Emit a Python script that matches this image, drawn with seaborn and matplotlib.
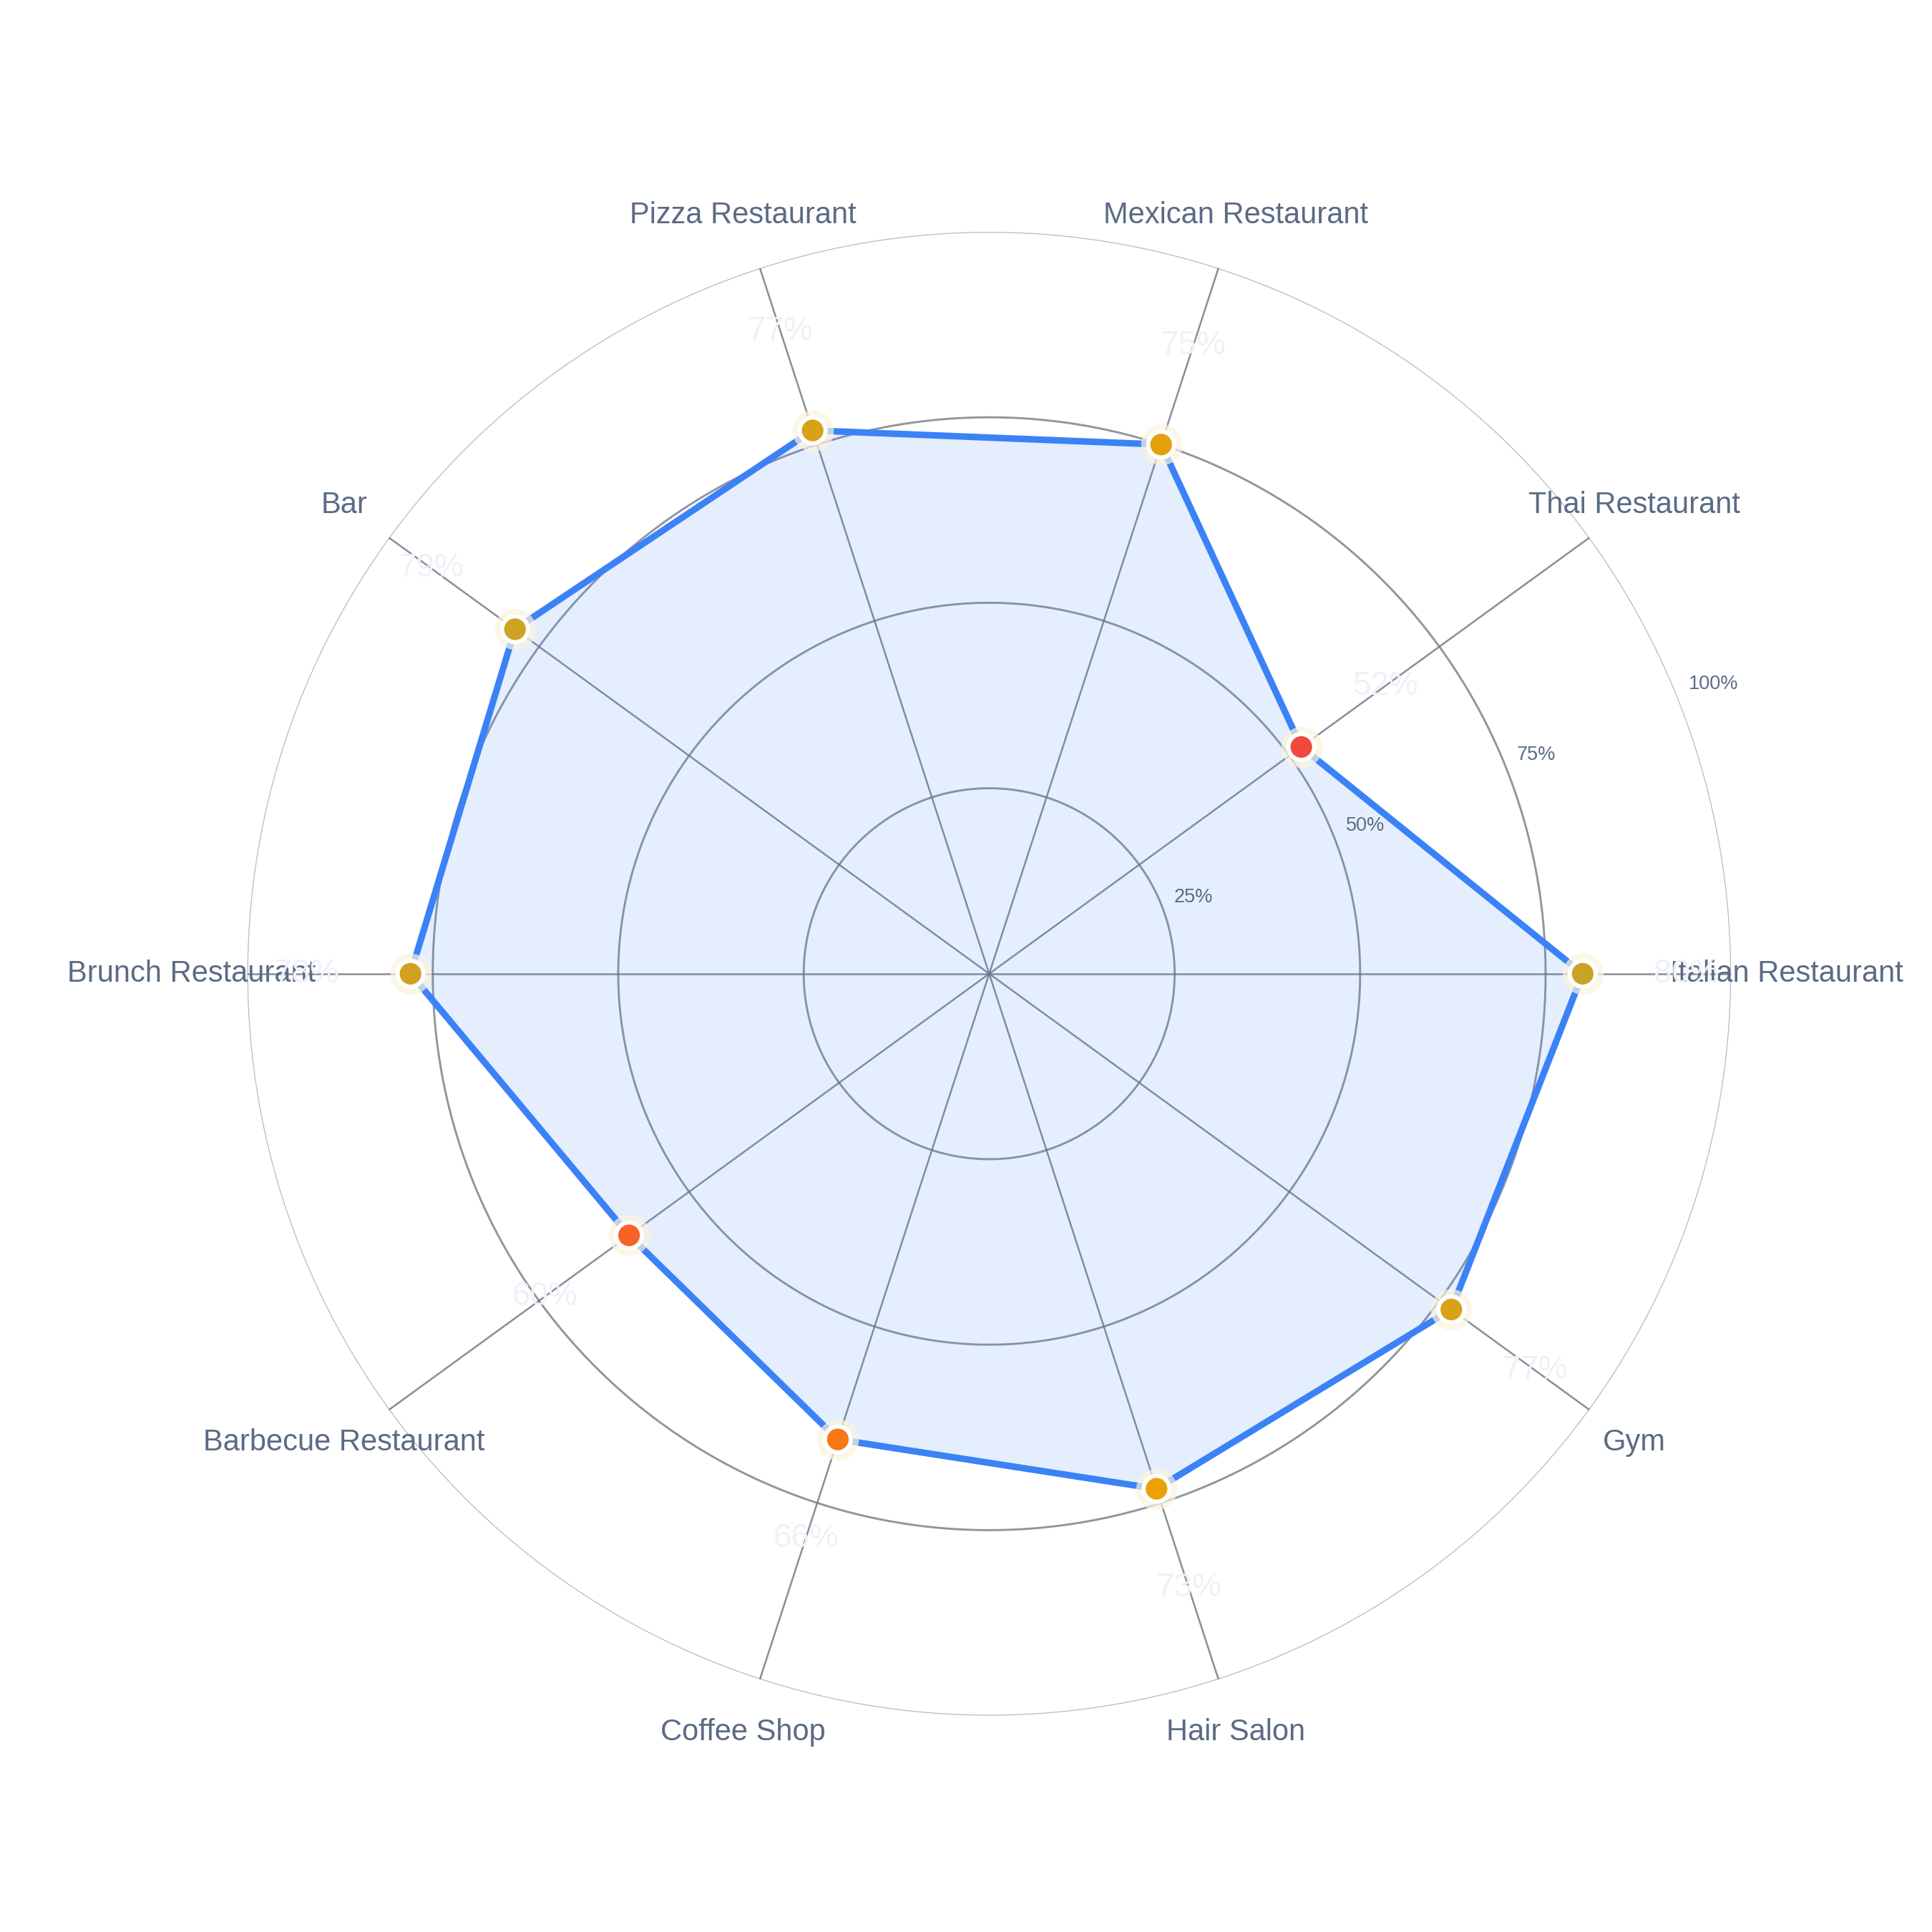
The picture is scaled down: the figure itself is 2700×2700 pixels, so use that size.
import numpy as np
import pandas as pd
import matplotlib
matplotlib.use("Agg")
import matplotlib.pyplot as plt
import seaborn as sns
from matplotlib.colors import LinearSegmentedColormap, Normalize

categories = ["Italian Restaurant", "Thai Restaurant", "Mexican Restaurant", "Pizza Restaurant",
              "Bar", "Brunch Restaurant", "Barbecue Restaurant", "Coffee Shop", "Hair Salon", "Gym"]
values = [80, 52, 75, 77, 79, 78, 60, 66, 73, 77]
radial_ticks = [25, 50, 75, 100]

sns.set_style("white")
plt.rcParams['font.family'] = ['Liberation Sans', 'DejaVu Sans']

angles = np.linspace(0, 2 * np.pi, len(categories), endpoint=False)
df = pd.DataFrame({"angle": angles, "value": values, "cat": categories})
closed = pd.concat([df, df.iloc[:1]], ignore_index=True)
closed.loc[len(closed) - 1, "angle"] = 2 * np.pi

cmap = LinearSegmentedColormap.from_list(
    "score", [(0.0, "#ef4444"), (0.5, "#f97316"), (0.75, "#f0a000"), (1.0, "#c9a227")])
norm = Normalize(50, 80)
colors = [cmap(norm(v)) for v in values]

fig = plt.figure(figsize=(9, 9), dpi=300)
ax = fig.add_axes([0.128, 0.112, 0.768, 0.768], projection="polar")
ax.set_ylim(0, 100)
ax.spines["polar"].set_visible(False)
ax.grid(False)

# grid circles and spokes
th = np.linspace(0, 2 * np.pi, 400)
for r in radial_ticks:
    ax.plot(th, [r] * len(th), color="#9ca3af" if r == 100 else "#6b7280",
            lw=0.6 if r == 100 else 0.7, alpha=0.75, zorder=1)
for a in angles:
    ax.plot([a, a], [0, 100], color="#6b7280", lw=0.6, alpha=0.8, zorder=1)

ax.fill(closed["angle"], closed["value"], color="#3b82f6", alpha=0.13, zorder=2)
sns.lineplot(data=closed, x="angle", y="value", sort=False, color="#3b82f6", lw=2.2, ax=ax, zorder=3)
ax.scatter(df["angle"], df["value"], s=190, color="#fbf3dc", alpha=0.7, zorder=4, lw=0)
sns.scatterplot(data=df, x="angle", y="value", hue="cat", palette=colors, s=75,
                edgecolor="white", linewidth=1.4, legend=False, ax=ax, zorder=5)

ax.set_xticks([])
ax.set_yticks([])
ax.set_xlabel("")
ax.set_ylabel("")

for a, v, c in zip(angles, values, categories):
    ax.text(a, min(v + 14, 96), f"{v}%", ha="center", va="center", fontsize=11, color="#eef2f7", zorder=6)
    ax.text(a, 107.5, c, ha="center", va="center", fontsize=10, color="#5b6b85", clip_on=False)

ra = np.deg2rad(22.5)
for r in radial_ticks:
    ax.text(ra, r + 2, f"{r}%", ha="left", va="center", fontsize=6.5, color="#5b6b85")

fig.savefig("out.png", dpi=300, facecolor="white")
